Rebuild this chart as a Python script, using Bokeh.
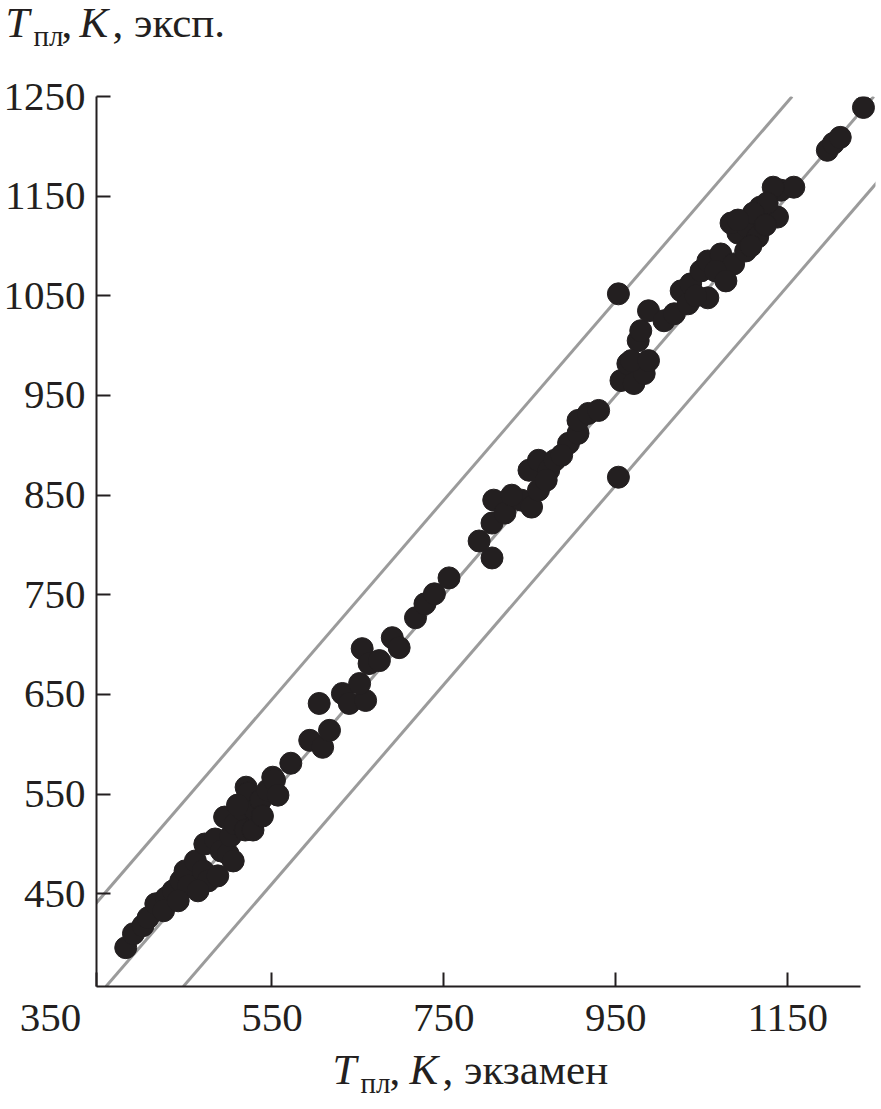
from bokeh.plotting import figure
from bokeh.layouts import column
from bokeh.models import Slope, FixedTicker, Range1d
from bokeh.core.properties import value
from bokeh.embed import file_html
from bokeh.resources import INLINE

# --- data (K) ---
t_exam = [380, 389, 400, 406, 415, 427, 435, 444, 449, 453, 461, 470, 472, 476, 484,
          491, 495, 499, 502, 507, 516, 519, 520, 522, 530, 537, 545, 551, 553, 572,
          594, 609, 617, 605, 632, 640, 659, 652, 655, 663, 675, 690, 698, 717, 728,
          739, 756, 791, 806, 806, 808, 821, 840, 852, 860, 849, 860, 872, 879, 895,
          906, 906, 918, 930, 953, 956, 964, 971, 976, 953, 983, 968, 988, 979, 988,
          1006, 1018, 1026, 1034, 1037, 1049, 1057, 1057, 1072, 1087, 1092, 1084, 1103,
          1101, 1115, 1118, 1138, 1142, 1157, 1133, 1126, 1110, 1092, 1196, 1203, 1211,
          1238,
          424, 441, 464, 487, 505, 528, 510, 539, 557, 829, 869, 887,
          1066, 1043, 1078, 1107, 1124]
t_exp = [396, 410, 418, 426, 440, 446, 453, 463, 473, 458, 483, 473, 500, 463, 505,
         493, 527, 490, 508, 520, 534, 514, 557, 551, 534, 544, 554, 567, 564, 581,
         604, 597, 614, 641, 651, 641, 644, 661, 696, 681, 684, 707, 697, 727, 741,
         751, 767, 804, 787, 822, 845, 832, 845, 838, 855, 875, 885, 875, 885, 902,
         912, 925, 932, 935, 868, 965, 982, 962, 1005, 1052, 972, 985, 985, 1015, 1035,
         1025, 1032, 1055, 1042, 1062, 1075, 1048, 1085, 1092, 1082, 1113, 1123, 1119,
         1095, 1109, 1139, 1129, 1156, 1159, 1159, 1143, 1133, 1126, 1196, 1203, 1209,
         1239,
         433, 443, 453, 468, 483, 514, 539, 528, 549, 850, 865, 890,
         1075, 1050, 1065, 1100, 1121]
band_offsets = [95, 0, -90]          # y = x + offset
x_ticks = [550, 750, 950, 1150]
x_corner_label = "350"
y_ticks = [450, 550, 650, 750, 850, 950, 1050, 1150, 1250]
x_start, x_end, x_axis_end = 346, 1252, 1234
y_start, y_end = 357, 1250

INK = "#231f20"
GREY = "#9b9b9b"
SERIF = "Liberation Serif"
W = 876
TOP_H, MAIN_H, BOT_H = 60, 985, 56


def text_strip(height, pieces):
    f = figure(width=W, height=height, output_backend="svg", toolbar_location=None,
               x_range=Range1d(0, W), y_range=Range1d(height, 0),
               x_axis_type=None, y_axis_type=None, min_border=0, frame_align=False)
    f.outline_line_color = None
    f.grid.grid_line_color = None
    for txt, x, y, size, italic in pieces:
        f.text(x=[x], y=[y], text=[txt], text_font=value(SERIF), text_font_size=f"{size}px",
               text_font_style="italic" if italic else "normal", text_color=INK,
               text_baseline="alphabetic", text_align="left")
    return f


# top strip: y-axis title
top = text_strip(TOP_H, [
    ("T", 5, 22, 43, True),
    ("пл", 33, 35, 29, False),
    (",", 61, 22, 43, False),
    ("K", 79, 22, 43, True),
    (", эксп.", 112, 22, 43, False),
])

p = figure(width=W, height=MAIN_H, output_backend="svg", toolbar_location=None,
           x_range=Range1d(x_start, x_end), y_range=Range1d(y_start, y_end),
           min_border_left=93, min_border_right=1, min_border_top=36, min_border_bottom=59,
           frame_align=False)
p.outline_line_color = None
p.grid.grid_line_color = None

for off in band_offsets:
    p.add_layout(Slope(gradient=1, y_intercept=off, line_color=GREY, line_width=3, level="underlay"))

p.scatter(t_exam, t_exp, size=22, color=INK, line_color=INK)

for ax in (p.xaxis[0], p.yaxis[0]):
    ax.axis_line_color = INK
    ax.axis_line_width = 2
    ax.major_tick_line_color = INK
    ax.major_tick_line_width = 2
    ax.major_tick_in = 14
    ax.major_tick_out = 0
    ax.minor_tick_line_color = None
    ax.major_label_text_font = SERIF
    ax.major_label_text_font_size = "41px"
    ax.major_label_text_color = INK
# the "350" label sits at the corner, left of the axis origin
p.xaxis[0].ticker = FixedTicker(ticks=[x_start] + x_ticks)
p.xaxis[0].major_label_overrides = {x_start: x_corner_label + "\u00a0" * 9}
p.yaxis[0].ticker = FixedTicker(ticks=y_ticks)
p.xaxis[0].bounds = (x_start, x_axis_end)
p.xaxis[0].major_label_standoff = 7
p.yaxis[0].major_label_standoff = 11

# bottom strip: x-axis title
bot = text_strip(BOT_H, [
    ("T", 332, 24, 43, True),
    ("пл", 360, 37, 29, False),
    (",", 389, 24, 43, False),
    ("K", 409, 24, 43, True),
    (", экзамен", 442, 24, 43, False),
])

layout = column(top, p, bot, spacing=0)
open("out.html", "w").write(file_html(layout, INLINE))
